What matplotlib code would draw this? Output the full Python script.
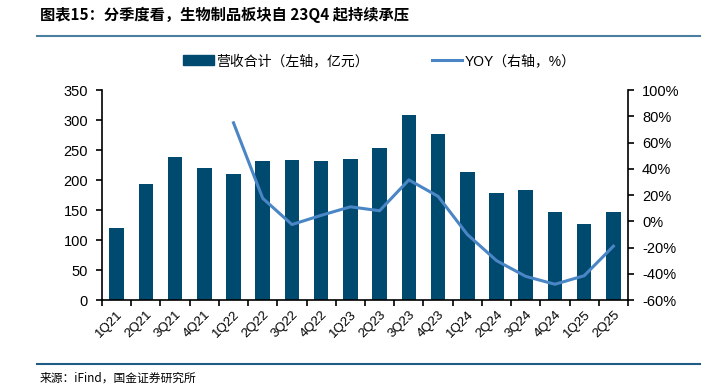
import matplotlib
matplotlib.use("Agg")
import matplotlib.pyplot as plt
from matplotlib.ticker import FuncFormatter, FixedLocator
from matplotlib.lines import Line2D
from matplotlib.patches import Patch
import numpy as np

plt.rcParams['font.family'] = ['Liberation Sans', 'Noto Sans CJK SC', 'DejaVu Sans']

quarters = ["1Q21", "2Q21", "3Q21", "4Q21", "1Q22", "2Q22", "3Q22", "4Q22", "1Q23",
            "2Q23", "3Q23", "4Q23", "1Q24", "2Q24", "3Q24", "4Q24", "1Q25", "2Q25"]
revenue = [120.5, 194, 238, 220.5, 210.5, 232, 233, 231, 234.5,
           253, 309, 277, 214, 179, 183, 147, 126, 147]
yoy_quarters = quarters[4:]
yoy = [75, 17.5, -2.5, 4.5, 11, 8, 31.5, 19, -10, -30, -42, -48, -41.5, -19]

bar_color = "#00496F"
line_color = "#4A86C5"

fig = plt.figure(figsize=(7.03, 3.85), dpi=100)
ax = fig.add_axes([102/703, 1 - 300/385, (628-102)/703, 210/385])
ax2 = ax.twinx()

x = np.arange(len(quarters))
ax.bar(x, revenue, width=0.5, color=bar_color, zorder=2)
xi = [quarters.index(q) for q in yoy_quarters]
ax2.plot(xi, yoy, color=line_color, lw=2.2, zorder=3)

ax.set_xlim(-0.5, len(quarters) - 0.5)
ax.set_ylim(0, 350)
ax.set_yticks(np.arange(0, 351, 50))
ax2.set_ylim(-60, 100)
ax2.set_yticks(np.arange(-60, 101, 20))
ax2.yaxis.set_major_formatter(FuncFormatter(lambda v, p: f"{int(v)}%"))

for a in (ax, ax2):
    a.spines['top'].set_visible(False)
    for s in a.spines.values():
        s.set_linewidth(1.2)
ax.spines['right'].set_visible(False)
ax2.spines['left'].set_visible(False)
ax2.spines['bottom'].set_visible(False)

ax.set_xticks(x)
ax.set_xticklabels(quarters, rotation=45, ha='right', rotation_mode='anchor', fontsize=9.5)
ax.tick_params(axis='x', which='major', length=0, pad=6)
ax.xaxis.set_minor_locator(FixedLocator(np.arange(-0.5, len(quarters), 1.0)))
ax.tick_params(axis='x', which='minor', length=4, width=1.2, direction='out')
ax.tick_params(axis='y', length=4, width=1.2, labelsize=10.5, pad=6)
ax2.tick_params(axis='y', length=4, width=1.2, labelsize=10.5, pad=6)

handles = [Patch(facecolor=bar_color, edgecolor=bar_color),
           Line2D([0], [0], color=line_color, lw=2.2)]
labels = ["营收合计（左轴，亿元）", "YOY（右轴，%）"]
fig.legend(handles, labels, loc='center', bbox_to_anchor=(0.54, 1 - 61/385), ncol=2,
           frameon=False, fontsize=10, handlelength=2.2, handleheight=0.7,
           handletextpad=0.2, columnspacing=4.5)

fig.text(40/703, 1 - 15/385, "图表15：分季度看，生物制品板块自 23Q4 起持续承压",
         fontsize=11, fontweight='bold', style='italic', va='center', ha='left',
         family=['Noto Sans CJK SC', 'DejaVu Sans'])
fig.add_artist(Line2D([37/703, 700/703], [1 - 36/385, 1 - 36/385], color="#4A7FA0", lw=1.5))
fig.add_artist(Line2D([37/703, 700/703], [1 - 364/385, 1 - 364/385], color="#1F5C85", lw=1.5))
fig.text(40/703, 1 - 378/385, "来源：iFind，国金证券研究所", fontsize=8.5, va='center', ha='left',
         family=['Noto Sans CJK SC', 'DejaVu Sans'])

fig.savefig("out.png", dpi=100)
